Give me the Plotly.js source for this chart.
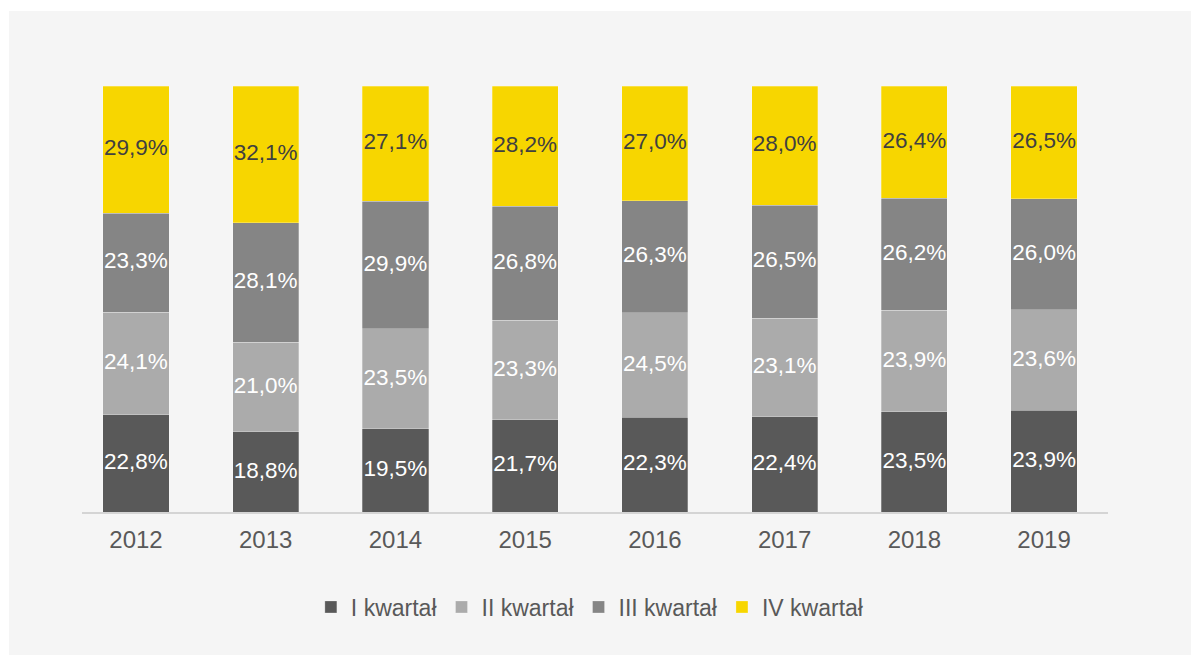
<!DOCTYPE html>
<html><head><meta charset="utf-8">
<script src="https://cdn.plot.ly/plotly-3.0.1.min.js"></script>
<style>
html,body{margin:0;padding:0;background:#ffffff;overflow:hidden}
#chart{position:absolute;left:9px;top:11px;width:1182px;height:644px}
</style></head><body><div id="chart"></div>
<script>
const years = ['2012','2013','2014','2015','2016','2017','2018','2019'];
const seriesNames = ['I kwartał','II kwartał','III kwartał','IV kwartał'];
const q1 = [22.8,18.8,19.5,21.7,22.3,22.4,23.5,23.9];
const q2 = [24.1,21.0,23.5,23.3,24.5,23.1,23.9,23.6];
const q3 = [23.3,28.1,29.9,26.8,26.3,26.5,26.2,26.0];
const q4 = [29.9,32.1,27.1,28.2,27.0,28.0,26.4,26.5];

const series = [q1,q2,q3,q4];
const colors = ['#595959','#ababab','#858585','#f7d600'];
const labelColors = ['#ffffff','#ffffff','#ffffff','#404040'];
const FONT = '"Liberation Sans", Arial, sans-serif';

const fmt = v => v.toFixed(1).replace('.', ',') + '%';
const totals = years.map((_, i) => series.reduce((s, arr) => s + arr[i], 0));

const traces = [];
series.forEach((vals, k) => {
  traces.push({
    type: 'bar', name: seriesNames[k], x: years, y: vals,
    marker: {color: colors[k], line: {color: 'rgba(255,255,255,0.35)', width: 0.75}},
    hoverinfo: 'skip'
  });
});
// label traces at segment midpoints (normalized to 100%)
series.forEach((vals, k) => {
  const mids = years.map((_, i) => {
    let below = 0;
    for (let j = 0; j < k; j++) below += series[j][i];
    return (below + vals[i] / 2) / totals[i] * 100;
  });
  traces.push({
    type: 'scatter', mode: 'text', x: years, y: mids,
    text: vals.map(fmt), textposition: 'middle center',
    textfont: {family: FONT, size: 22.5, color: labelColors[k]},
    showlegend: false, hoverinfo: 'skip', cliponaxis: false
  });
});

const layout = {
  width: 1182, height: 644,
  paper_bgcolor: '#f5f5f5', plot_bgcolor: '#f5f5f5',
  margin: {l: 73, r: 83, t: 75, b: 143},
  barmode: 'stack', barnorm: 'percent', bargap: 0.49,
  font: {family: FONT, color: '#595959'},
  xaxis: {
    type: 'category', range: [-0.416, 7.493],
    showline: true, linecolor: '#d4d4d4', linewidth: 1.5,
    showgrid: false, zeroline: false, ticks: '', ticklabelstandoff: 6,
    tickfont: {family: FONT, size: 24, color: '#595959'}
  },
  yaxis: {range: [0, 100], visible: false, showgrid: false, zeroline: false},
  legend: {
    orientation: 'h', x: 0.495, xanchor: 'center', y: -0.223, yanchor: 'middle',
    font: {family: FONT, size: 23, color: '#595959'},
    bgcolor: 'rgba(0,0,0,0)', traceorder: 'normal'
  },
  showlegend: true
};
Plotly.newPlot('chart', traces, layout, {displayModeBar: false, staticPlot: true});
</script></body></html>
